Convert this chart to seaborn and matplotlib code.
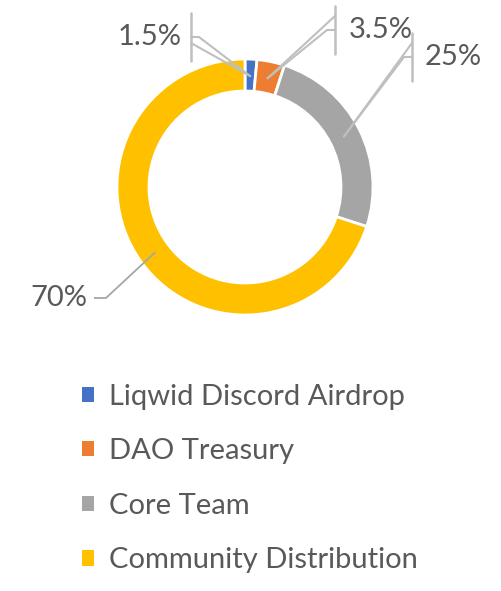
import matplotlib
matplotlib.use("Agg")
import matplotlib.pyplot as plt
import seaborn as sns
import numpy as np
from matplotlib.patches import Patch

# data
names = ["Liqwid Discord Airdrop", "DAO Treasury", "Core Team", "Community Distribution"]
shares = [1.5, 3.5, 25, 70]
colors = ["#4472C4", "#ED7D31", "#A5A5A5", "#FFC000"]

sns.set_theme(style="white")
plt.rcParams["font.family"] = ["Lato", "DejaVu Sans"]

W, H = 502, 591
fig = plt.figure(figsize=(W / 100, H / 100), dpi=100)
ax = fig.add_axes([0, 0, 1, 1])

# donut, in pixel units (y up)
cx, cy, R, ring = 245, H - 187, 128, 32
wedges, _ = ax.pie(shares, colors=colors, startangle=90, counterclock=False,
                   center=(cx, cy), radius=R,
                   wedgeprops=dict(width=ring, edgecolor="white", linewidth=2))
ax.set_xlim(0, W)
ax.set_ylim(0, H)
ax.set_aspect("equal")
ax.axis("off")

txt_col = "#595959"
line_col = "#BFBFBF"

# label placement (image coords): text centre, bracket x, tick direction, 2nd line offset
label_pos = [(150, 37, 191, 1, 6), (381, 30, 335, -1, -14), (453, 57, 412, -1, -14), (59, 298, None, 1, 0)]

for w, v, (lx, ly, bx, d, off) in zip(wedges, shares, label_pos):
    mid = np.deg2rad((w.theta1 + w.theta2) / 2)
    rr = R - ring / 2 - 1
    axp, ayp = cx + rr * np.cos(mid), cy + rr * np.sin(mid)
    ax.text(lx, H - ly, f"{v:g}%", ha="center", va="center", fontsize=21, color=txt_col)
    if bx is None:
        # simple elbow leader
        x0 = lx + 35
        ax.plot([x0, x0 + 12, axp], [H - ly, H - ly, ayp], color="#A6A6A6", lw=1.3,
                solid_capstyle="butt")
    else:
        ax.plot([bx, bx], [H - ly - 24, H - ly + 24], color=line_col, lw=1.8)
        ax.plot([bx, bx + d * 8, axp], [H - ly, H - ly, ayp], color=line_col, lw=1.5)
        ax.plot([bx, axp], [H - ly - off, ayp], color=line_col, lw=1.5)

handles = [Patch(facecolor=c, edgecolor="none") for c in colors]
leg = ax.legend(handles, names, loc="upper left", bbox_to_anchor=(70 / W, 1 - 372 / H),
                frameon=False, fontsize=21, handlelength=0.43, handleheight=0.43,
                handletextpad=0.5, labelspacing=0.98, borderaxespad=0)
for t in leg.get_texts():
    t.set_color(txt_col)

fig.savefig("out.png", dpi=100)
